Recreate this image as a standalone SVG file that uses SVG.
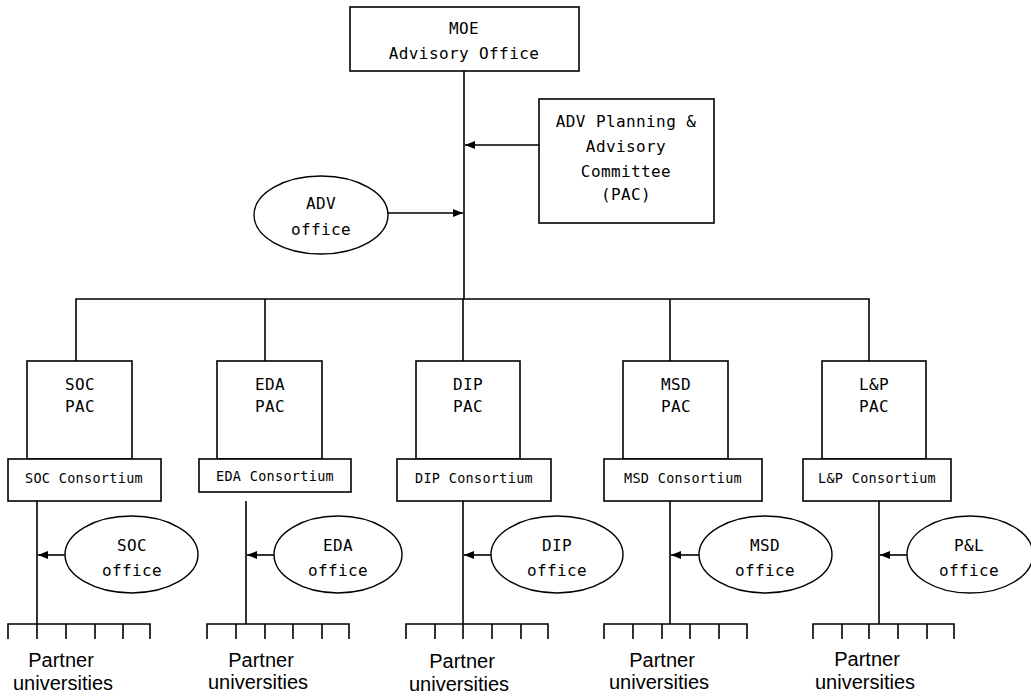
<svg xmlns="http://www.w3.org/2000/svg" width="1031" height="697" viewBox="0 0 1031 697">
<style>
.box{fill:#fff;stroke:#000;stroke-width:1.6}
.ell{fill:#fff;stroke:#000;stroke-width:1.4}
.ln{fill:none;stroke:#000;stroke-width:1.6}
.t{font-family:"DejaVu Sans Mono","Liberation Mono",monospace;font-size:16px;letter-spacing:0.4px;text-anchor:middle;fill:#000}
.s{font-family:"DejaVu Sans Mono","Liberation Mono",monospace;font-size:13.5px;letter-spacing:0.3px;text-anchor:middle;fill:#000}
.p{font-family:"Liberation Sans",Arial,sans-serif;font-size:20px;text-anchor:middle;fill:#000}
</style>
<defs>
<marker id="ah" viewBox="0 0 10 8" refX="10" refY="4" markerWidth="10" markerHeight="8" markerUnits="userSpaceOnUse" orient="auto">
<path d="M0,0 L10,4 L0,8 z" fill="#000"/>
</marker>
</defs>
<rect width="1031" height="697" fill="#fff"/>
<g id="connectors">
<line class="ln" x1="464" y1="71" x2="464" y2="299"/>
<line class="ln" x1="539" y1="145" x2="465" y2="145" marker-end="url(#ah)"/>
<line class="ln" x1="388" y1="213" x2="463" y2="213" marker-end="url(#ah)"/>
<polyline class="ln" points="76,361 76,299 869,299 869,361"/>
<line class="ln" x1="265" y1="299" x2="265" y2="361"/>
<line class="ln" x1="463" y1="299" x2="463" y2="361"/>
<line class="ln" x1="670" y1="299" x2="670" y2="361"/>
<line class="ln" x1="37" y1="501" x2="37" y2="624"/>
<line class="ln" x1="246" y1="501" x2="246" y2="624"/>
<line class="ln" x1="463" y1="501" x2="463" y2="624"/>
<line class="ln" x1="670" y1="501" x2="670" y2="624"/>
<line class="ln" x1="879" y1="501" x2="879" y2="624"/>
<line class="ln" x1="65" y1="555" x2="38" y2="555" marker-end="url(#ah)"/>
<line class="ln" x1="274" y1="555" x2="247" y2="555" marker-end="url(#ah)"/>
<line class="ln" x1="491" y1="555" x2="464" y2="555" marker-end="url(#ah)"/>
<line class="ln" x1="699" y1="555" x2="671" y2="555" marker-end="url(#ah)"/>
<line class="ln" x1="907" y1="555" x2="880" y2="555" marker-end="url(#ah)"/>
<path class="ln" d="M8,639 V624 H150 V639 M37,624 V639 M66,624 V639 M95,624 V639 M123,624 V639"/>
<path class="ln" d="M207,639 V624 H349 V639 M236,624 V639 M265,624 V639 M293,624 V639 M322,624 V639"/>
<path class="ln" d="M406,639 V624 H548 V639 M435,624 V639 M463,624 V639 M492,624 V639 M521,624 V639"/>
<path class="ln" d="M604,639 V624 H747 V639 M633,624 V639 M662,624 V639 M690,624 V639 M719,624 V639"/>
<path class="ln" d="M813,639 V624 H954 V639 M842,624 V639 M869,624 V639 M898,624 V639 M927,624 V639"/>
</g>
<g id="moe">
<rect class="box" x="350" y="7" width="229" height="64"/>
<text class="t" x="464" y="34">MOE</text>
<text class="t" x="464" y="59">Advisory Office</text>
</g>
<g id="adv-pac">
<rect class="box" x="539" y="99" width="175" height="124"/>
<text class="t" x="626" y="127">ADV Planning &amp;</text>
<text class="t" x="626" y="152">Advisory</text>
<text class="t" x="626" y="177">Committee</text>
<text class="t" x="626" y="200">(PAC)</text>
</g>
<g id="adv-office">
<ellipse class="ell" cx="321" cy="215" rx="67" ry="39"/>
<text class="t" x="321" y="209">ADV</text>
<text class="t" x="321" y="235">office</text>
</g>
<g id="soc">
<rect class="box" x="27" y="361" width="105" height="98"/>
<text class="t" x="80" y="390">SOC</text>
<text class="t" x="80" y="412">PAC</text>
<rect class="box" x="8" y="459" width="153" height="42"/>
<text class="s" x="84" y="483">SOC Consortium</text>
<ellipse class="ell" cx="131.5" cy="554.5" rx="66.5" ry="38.5"/>
<text class="t" x="132" y="551">SOC</text>
<text class="t" x="132" y="576">office</text>
<text class="p" x="61" y="667">Partner</text>
<text class="p" x="63" y="690">universities</text>
</g>
<g id="eda">
<rect class="box" x="217" y="361" width="105" height="98"/>
<text class="t" x="270" y="390">EDA</text>
<text class="t" x="270" y="412">PAC</text>
<rect class="box" x="199" y="459" width="152" height="33"/>
<text class="s" x="275" y="481">EDA Consortium</text>
<ellipse class="ell" cx="338" cy="554.5" rx="64" ry="38.5"/>
<text class="t" x="338" y="551">EDA</text>
<text class="t" x="338" y="576">office</text>
<text class="p" x="261" y="667">Partner</text>
<text class="p" x="258" y="689">universities</text>
</g>
<g id="dip">
<rect class="box" x="416" y="361" width="104" height="98"/>
<text class="t" x="468" y="390">DIP</text>
<text class="t" x="468" y="412">PAC</text>
<rect class="box" x="397" y="459" width="154" height="42"/>
<text class="s" x="474" y="483">DIP Consortium</text>
<ellipse class="ell" cx="557" cy="554.5" rx="66" ry="38.5"/>
<text class="t" x="557" y="551">DIP</text>
<text class="t" x="557" y="576">office</text>
<text class="p" x="462" y="668">Partner</text>
<text class="p" x="459" y="691">universities</text>
</g>
<g id="msd">
<rect class="box" x="623" y="361" width="105" height="98"/>
<text class="t" x="676" y="390">MSD</text>
<text class="t" x="676" y="412">PAC</text>
<rect class="box" x="604" y="459" width="158" height="42"/>
<text class="s" x="683" y="483">MSD Consortium</text>
<ellipse class="ell" cx="765.5" cy="554.5" rx="66.5" ry="38.5"/>
<text class="t" x="765" y="551">MSD</text>
<text class="t" x="765" y="576">office</text>
<text class="p" x="662" y="667">Partner</text>
<text class="p" x="659" y="689">universities</text>
</g>
<g id="lp">
<rect class="box" x="822" y="361" width="104" height="98"/>
<text class="t" x="874" y="390">L&amp;P</text>
<text class="t" x="874" y="412">PAC</text>
<rect class="box" x="803" y="459" width="148" height="42"/>
<text class="s" x="877" y="483">L&amp;P Consortium</text>
<ellipse class="ell" cx="970" cy="554.5" rx="63" ry="38.5"/>
<text class="t" x="969" y="551">P&amp;L</text>
<text class="t" x="969" y="576">office</text>
<text class="p" x="867" y="666">Partner</text>
<text class="p" x="865" y="689">universities</text>
</g>
</svg>
